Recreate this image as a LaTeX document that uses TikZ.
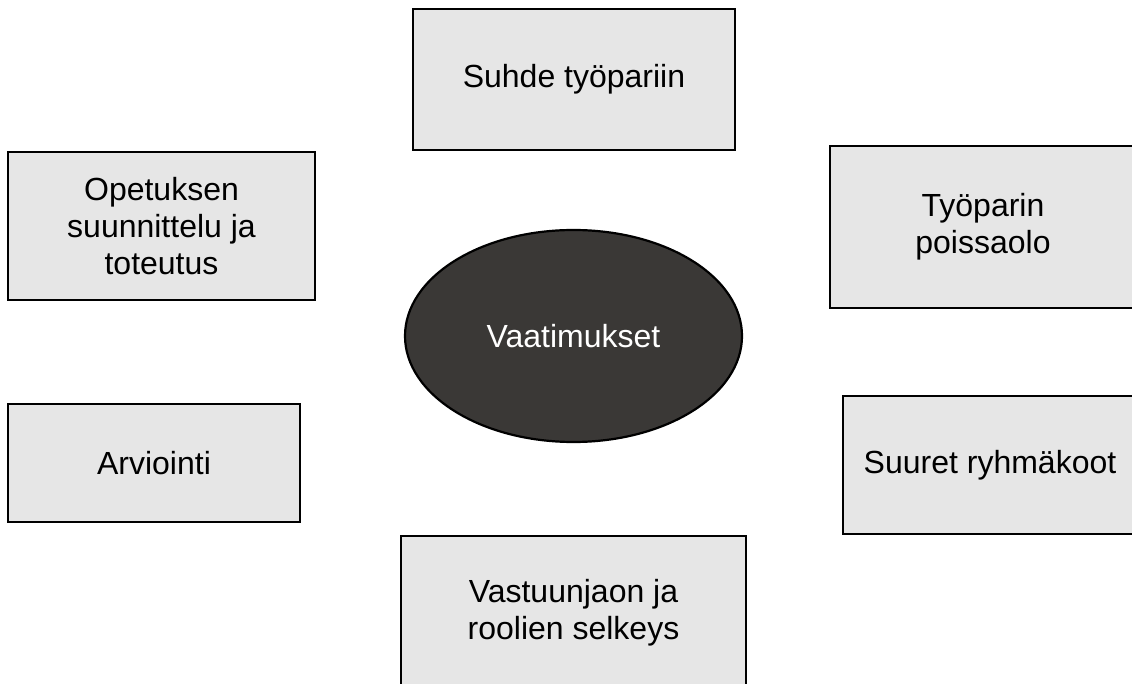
\documentclass[tikz,border=0pt]{standalone}
\usepackage{fontspec}
\setmainfont{Liberation Sans}
\usetikzlibrary{shapes.geometric}
\definecolor{boxfill}{RGB}{230,230,230}
\definecolor{ellfill}{RGB}{58,56,54}
\begin{document}
\begin{tikzpicture}[x=1pt,y=-1pt,
  box/.style={draw=black,line width=2.2pt,fill=boxfill,rectangle,inner sep=0pt,align=center,
    font=\fontsize{32}{37}\selectfont,text=black},
  center/.style={draw=black,line width=2.2pt,fill=ellfill,ellipse,inner sep=0pt,
    font=\fontsize{32}{37}\selectfont,text=white}]
\useasboundingbox (0,0) rectangle (1132,684);
\node[box,minimum width=322pt,minimum height=141pt] (suhde) at (574,79.5) {Suhde työpariin};
\node[box,minimum width=307pt,minimum height=148pt] (opetus) at (161.5,226) {Opetuksen\\suunnittelu ja\\toteutus};
\node[box,minimum width=292pt,minimum height=118pt] (arv) at (154,463) {Arviointi};
\node[box,minimum width=306pt,minimum height=162pt] (poissa) at (983,227) {Työparin\\poissaolo};
\node[box,minimum width=294pt,minimum height=138pt] (suuret) at (990,465) {Suuret ryhmäkoot};
\node[box,minimum width=345pt,minimum height=154pt] (vastuu) at (573.5,613) {Vastuunjaon ja\\roolien selkeys};
\node[center,minimum width=337pt,minimum height=212pt] (vaat) at (573.5,336) {Vaatimukset};
\end{tikzpicture}
\end{document}
